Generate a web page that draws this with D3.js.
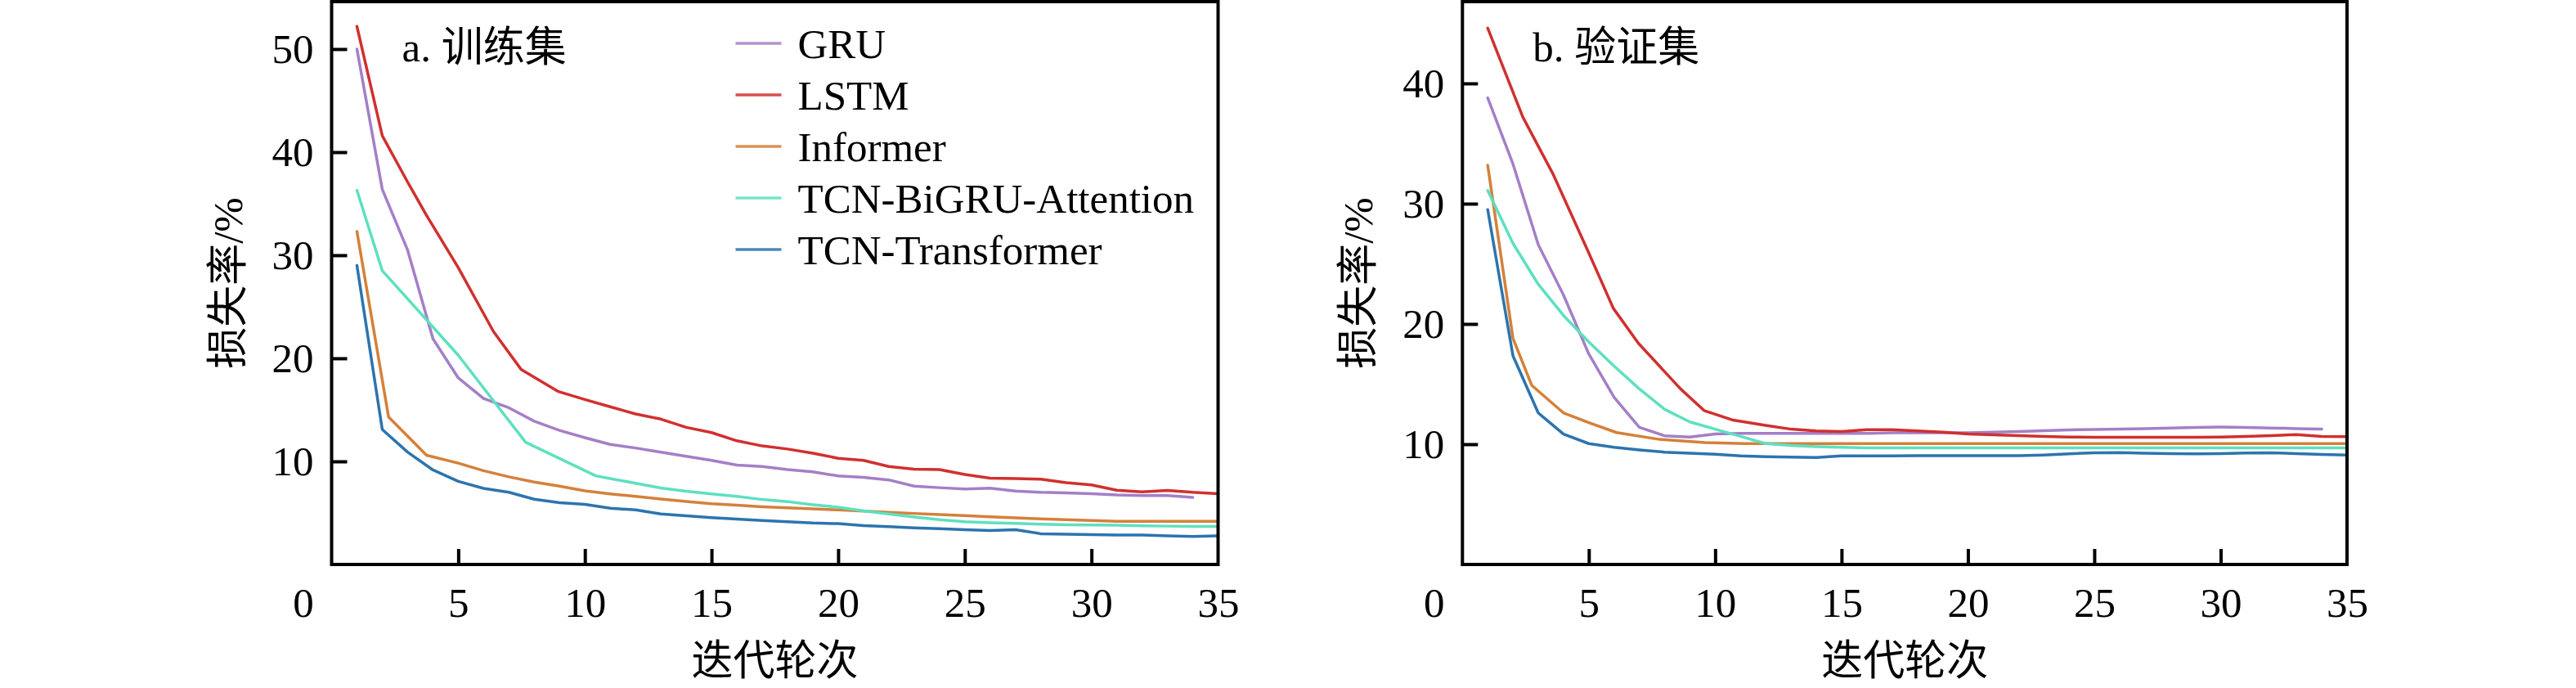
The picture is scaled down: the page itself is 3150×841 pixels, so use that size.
<!DOCTYPE html>
<html lang="zh">
<head>
    <meta charset="utf-8">
    <!-- Load d3.js -->
    <script src="https://d3js.org/d3.v7.min.js"></script>
    <style>
        body { margin: 0; background: #fff; }
        text { font-family: "Liberation Serif", "Noto Sans CJK SC", serif; fill: #000; }
    </style>
</head>
<body>
    <div id="my_dataviz"></div>

    <script>
        // epochs and model names
        const epochs = d3.range(1, 36);
        const models = ["GRU", "LSTM", "Informer", "TCN-BiGRU-Attention", "TCN-Transformer"];
        const colors = ["#a47fc7", "#d0302f", "#d4813a", "#5ee0c0", "#2c74ae"];
        const xTicks = [0, 5, 10, 15, 20, 25, 30, 35];

        // a. training set loss (%)  -- GRU stops at epoch 34
        // some curves bend between whole epochs, so they carry their own x positions
        const trainGRU = [50.0, 36.4, 30.5, 21.9, 18.1, 16.1, 15.2, 13.9, 13.0, 12.3, 11.65, 11.3, 10.9, 10.5, 10.1, 9.64, 9.5,
            9.2, 8.98, 8.59, 8.46, 8.2, 7.6, 7.45, 7.32, 7.4, 7.13, 7.0, 6.95, 6.87, 6.74, 6.69, 6.69, 6.5];
        const trainLSTMx = [1, 2, 3, 3.74, 5, 6.39, 7.49, 8.93].concat(d3.range(10, 36));
        const trainLSTM = [52.2, 41.6, 37.1, 33.9, 28.8, 22.6, 18.9, 16.8,
            16.0, 15.3, 14.6, 14.1, 13.3, 12.8, 12.0, 11.5, 11.2, 10.8, 10.3, 10.1, 9.5, 9.25, 9.2, 8.73, 8.38, 8.33, 8.28,
            7.93, 7.72, 7.2, 7.05, 7.19, 7.0, 6.87];
        const trainInformerX = [1, 2.25, 3.75].concat(d3.range(5, 36));
        const trainInformer = [32.3, 14.3, 10.6,
            9.83, 9.1, 8.5, 8.0, 7.6, 7.15, 6.85, 6.6, 6.35, 6.12, 5.9, 5.75, 5.6, 5.5, 5.4, 5.29, 5.17, 5.06, 4.95, 4.84,
            4.74, 4.63, 4.52, 4.43, 4.34, 4.26, 4.18, 4.18, 4.18, 4.18, 4.18];
        const trainBiGRUx = [1, 2, 5, 7.66, 10.43].concat(d3.range(11, 36));
        const trainBiGRU = [36.3, 28.5, 20.3, 11.85, 8.6,
            8.34, 7.88, 7.42, 7.1, 6.85, 6.6, 6.3, 6.1, 5.8, 5.55, 5.2, 4.9, 4.6, 4.35, 4.15, 4.05, 3.98, 3.9, 3.85, 3.83,
            3.8, 3.75, 3.72, 3.7, 3.7];
        const trainTrans = [29.0, 13.1, 10.9, 9.17, 8.07, 7.38, 7.0, 6.33, 6.0, 5.83, 5.45, 5.3, 4.9, 4.73, 4.54, 4.4, 4.26,
            4.15, 4.02, 3.96, 3.77, 3.67, 3.56, 3.47, 3.38, 3.3, 3.38, 2.98, 2.94, 2.9, 2.85, 2.85, 2.77, 2.72, 2.77];

        // b. validation set loss (%)
        const valGRU = [38.8, 33.3, 26.6, 22.4, 17.5, 13.9, 11.4, 10.7, 10.6, 10.85, 10.9, 10.9, 10.9, 10.9, 10.9, 10.9, 10.95,
            10.95, 10.95, 10.96, 11.0, 11.05, 11.12, 11.19, 11.22, 11.26, 11.3, 11.35, 11.4, 11.42, 11.4, 11.35, 11.3, 11.26];
        const valLSTMx = [1, 2.39, 3.6, 5, 5.97, 6.96, 8.63, 9.56, 10.71].concat(d3.range(12, 36));
        const valLSTM = [44.6, 37.2, 32.4, 25.9, 21.3, 18.4, 14.6, 12.8, 12.0,
            11.57, 11.25, 11.1, 11.05, 11.2, 11.2, 11.1, 11.0, 10.85, 10.78, 10.72, 10.65, 10.6, 10.58, 10.58, 10.58, 10.58,
            10.58, 10.6, 10.65, 10.72, 10.8, 10.65, 10.63];
        const valInformerX = [1, 2, 2.74, 4, 5, 6.1, 7.8, 9.6, 11.2].concat(d3.range(12, 36));
        const valInformer = [33.2, 18.8, 14.9, 12.6, 11.8, 10.97, 10.4, 10.13, 10.05,
            10.05, 10.05, 10.05, 10.05, 10.05, 10.05, 10.05, 10.05, 10.05, 10.05, 10.05, 10.05, 10.05, 10.05, 10.05, 10.05,
            10.05, 10.05, 10.05, 10.05, 10.05, 10.05, 10.05, 10.05];
        const valBiGRU = [31.1, 26.7, 23.3, 20.7, 18.5, 16.5, 14.6, 12.9, 11.85, 11.25, 10.65, 10.05, 9.9, 9.8, 9.74, 9.7, 9.7,
            9.7, 9.7, 9.7, 9.7, 9.7, 9.7, 9.7, 9.7, 9.7, 9.7, 9.7, 9.7, 9.7, 9.7, 9.7, 9.7, 9.7, 9.7];
        const valTrans = [29.5, 17.35, 12.6, 10.84, 10.05, 9.74, 9.53, 9.34, 9.25, 9.17, 9.03, 8.97, 8.93, 8.9, 9.03, 9.03, 9.03,
            9.05, 9.05, 9.05, 9.04, 9.04, 9.1, 9.2, 9.28, 9.3, 9.25, 9.22, 9.2, 9.22, 9.27, 9.28, 9.22, 9.15, 9.1];

        const fontSize = 51;

        const svg = d3.select("#my_dataviz")
            .append("svg")
            .attr("width", 3150)
            .attr("height", 841)
            .style("background-color", "white");

        // panel settings (plot area in pixels)
        const panels = [
            { left: 405.5, right: 1489.5, yMax: 54.6, yTicks: [10, 20, 30, 40, 50], title: "a. 训练集", legend: true,
              series: [[epochs, trainGRU], [trainLSTMx, trainLSTM], [trainInformerX, trainInformer],
                       [trainBiGRUx, trainBiGRU], [epochs, trainTrans]] },
            { left: 1788.3, right: 2870, yMax: 46.8, yTicks: [10, 20, 30, 40], title: "b. 验证集", legend: false,
              series: [[epochs, valGRU], [valLSTMx, valLSTM], [valInformerX, valInformer],
                       [epochs, valBiGRU], [epochs, valTrans]] }
        ];
        const plotTop = 2, plotBottom = 690;

        panels.forEach(function (p) {
            const w = p.right - p.left, h = plotBottom - plotTop;
            const g = svg.append("g").attr("transform", `translate(${p.left}, ${plotTop})`);

            const x = d3.scaleLinear().domain([0, 35]).range([0, w]);
            const y = d3.scaleLinear().domain([0, p.yMax]).range([h, 0]);

            // lines
            p.series.forEach(function (s, k) {
                const xs = s[0], ys = s[1];
                const line = d3.line()
                    .x(function (d, i) { return x(xs[i]); })
                    .y(function (d) { return y(d); });
                g.append("path")
                    .datum(ys)
                    .attr("fill", "none")
                    .attr("stroke", colors[k])
                    .attr("stroke-width", 3.5)
                    .attr("stroke-linejoin", "round")
                    .attr("stroke-linecap", "round")
                    .attr("d", line);
            });

            // X axis, ticks pointing inwards
            const xAxis = g.append("g")
                .attr("transform", `translate(0, ${h})`)
                .call(d3.axisBottom(x).tickValues(xTicks).tickSize(-19).tickFormat(d3.format("d")));
            xAxis.select(".domain").remove();
            xAxis.selectAll("line").attr("stroke", "#000").attr("stroke-width", 4)
                .filter(function (d) { return d === 0 || d === 35; }).remove();
            xAxis.selectAll("text")
                .attr("y", 64).attr("dy", null)
                .style("font-size", fontSize + "px")
                .style("font-family", "'Liberation Serif', serif")
                .attr("x", function (d) { return d === 0 ? -35 : 0; });

            // Y axis, ticks pointing inwards
            const yAxis = g.append("g")
                .call(d3.axisLeft(y).tickValues(p.yTicks).tickSize(-19).tickPadding(22));
            yAxis.select(".domain").remove();
            yAxis.selectAll("line").attr("stroke", "#000").attr("stroke-width", 4);
            yAxis.selectAll("text")
                .attr("dy", "0.33em")
                .style("font-size", fontSize + "px")
                .style("font-family", "'Liberation Serif', serif");

            // frame
            g.append("rect")
                .attr("width", w).attr("height", h)
                .attr("fill", "none")
                .attr("stroke", "#000")
                .attr("stroke-width", 4);

            // panel title
            g.append("text")
                .attr("x", 86).attr("y", 73)
                .style("font-size", fontSize + "px")
                .text(p.title);

            // axis titles
            g.append("text")
                .attr("transform", `translate(-127, ${h / 2}) rotate(-90)`)
                .attr("text-anchor", "middle")
                .attr("dominant-baseline", "central")
                .style("font-size", fontSize + "px")
                .text("损失率/%");

            g.append("text")
                .attr("x", w / 2).attr("y", 808 - plotTop)
                .attr("text-anchor", "middle")
                .attr("dominant-baseline", "central")
                .style("font-size", fontSize + "px")
                .text("迭代轮次");

            // legend
            if (p.legend) {
                models.forEach(function (m, k) {
                    const ly = 51 + k * 63;
                    g.append("line")
                        .attr("x1", 494).attr("x2", 550)
                        .attr("y1", ly).attr("y2", ly)
                        .attr("stroke", colors[k])
                        .attr("stroke-width", 3.5)
                        .attr("opacity", 0.85);
                    g.append("text")
                        .attr("x", 570).attr("y", ly + 17.5)
                        .style("font-size", fontSize + "px")
                        .text(m);
                });
            }
        });
    </script>
</body>
</html>
